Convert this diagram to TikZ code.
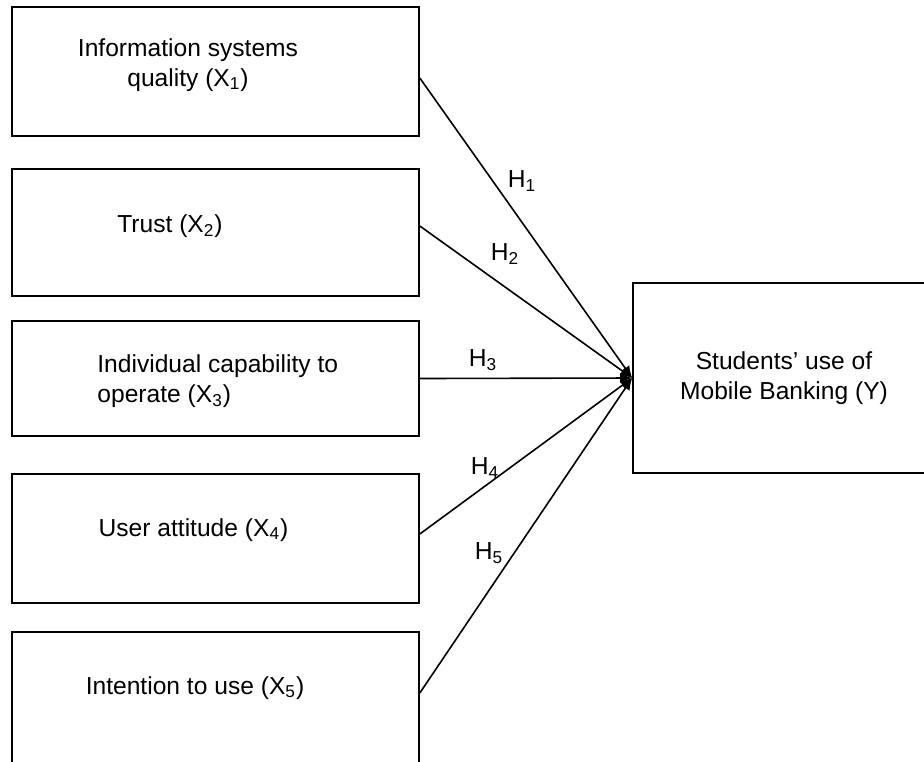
\documentclass[tikz,border=0pt]{standalone}
\usepackage{fontspec}
\setmainfont{Liberation Sans}
\usetikzlibrary{arrows.meta}
\begin{document}
\begin{tikzpicture}[x=0.5pt,y=-0.5pt,
  box/.style={draw, line width=0.8pt, minimum width=203.5pt, inner sep=0pt},
  txt/.style={inner sep=0pt, font=\fontsize{12.3}{15}\selectfont},
  hyp/.style={draw, line width=0.8pt, -{Latex[length=6pt,width=5pt]}}]
\useasboundingbox (0,0) rectangle (924,761);
\clip (0,0) rectangle (924,761);
\node[box, minimum height=64.5pt] (x1) at (215.5,71.5) {};
\node[box, minimum height=63.5pt] (x2) at (215.5,232.5) {};
\node[box, minimum height=57.5pt] (x3) at (215.5,378.5) {};
\node[box, minimum height=64.5pt] (x4) at (215.5,538.5) {};
\node[box, minimum height=69pt] (x5) at (215.5,701) {};
\node[box, minimum width=151pt, minimum height=95pt] (y) at (784,378) {};

%\node[txt] at (215.5,71.5) {};
\node[txt, align=center] (t1) at (188,65) {Information systems\\quality (X\textsubscript{1})};
\node[txt] (t2) at (170,226) {Trust (X\textsubscript{2})};
\node[txt, align=left, anchor=west] (t3) at (97,381) {Individual capability to\\operate (X\textsubscript{3})};
\node[txt] (t4) at (193.5,530) {User attitude (X\textsubscript{4})};
\node[txt] (t5) at (195,688) {Intention to use (X\textsubscript{5})};
\node[txt, align=center] (ty) at (784,378) {Students’ use of\\Mobile Banking (Y)};

\path[hyp] ([yshift=-3.25pt]x1.east) -- (y.west);
\path[hyp] ([yshift=3.25pt]x2.east) -- (y.west);
\path[hyp] (x3.east) -- (y.west);
\path[hyp] ([yshift=2.25pt]x4.east) -- (y.west);
\path[hyp] ([yshift=4pt]x5.east) -- (y.west);

\node[txt] (h1) at (522,181) {H\textsubscript{1}};
\node[txt] (h2) at (505,254) {H\textsubscript{2}};
\node[txt] (h3) at (483,360) {H\textsubscript{3}};
\node[txt] (h4) at (485,468) {H\textsubscript{4}};
\node[txt] (h5) at (489,553) {H\textsubscript{5}};
\end{tikzpicture}
\end{document}
